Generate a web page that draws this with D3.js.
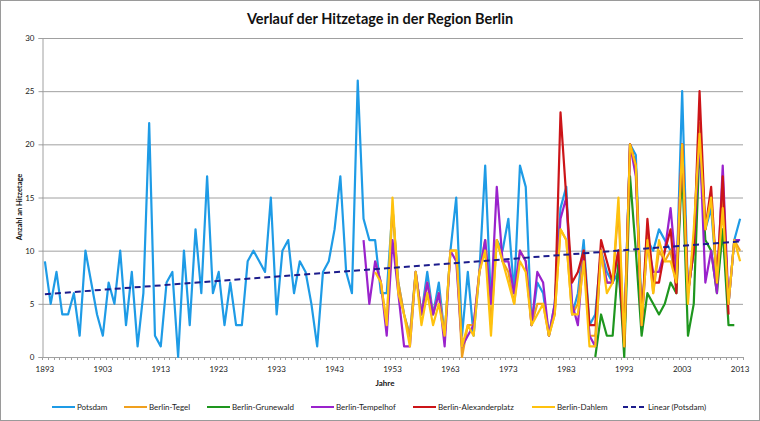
<!DOCTYPE html>
<html><head><meta charset="utf-8">
<script src="https://cdn.jsdelivr.net/npm/d3@7"></script>
<style>
body{margin:0;background:#fff}
svg{display:block}
text{font-family:Lato,"Liberation Sans",sans-serif}
</style>
</head><body>
<svg id="c" width="760" height="421"></svg>
<script>
// ---- categories / ticks ----
const firstYear = 1893, lastYear = 2013;
const years = d3.range(firstYear, lastYear + 1);
const xTickYears = [1893,1903,1913,1923,1933,1943,1953,1963,1973,1983,1993,2003,2013];
const yTicks = [0,5,10,15,20,25,30];

// ---- series values (Hitzetage), each from its start year ----
const potsdamStart = 1893;
const potsdam = [
 9,5,8,4,4,6,2,10,7,4,
 2,7,5,10,3,8,1,6,22,2,
 1,7,8,0,10,3,12,6,17,6,
 8,3,7,3,3,9,10,9,8,15,
 4,10,11,6,9,8,5,1,8,9,
 12,17,8,6,26,13,11,11,6,6,
 14,7,4,2,8,4,8,4,7,2,
 10,15,2,8,2,8,18,5,11,10,
 13,6,18,16,3,7,6,2,5,14,
 16,4,6,11,3,4,10,8,7,8,
 2,20,19,4,11,10,12,11,10,7,
 25,6,10,21,12,14,7,12,5,11,
 13];
const tegelStart = 1950;
const tegel = [
 9,7,3,14,7,4,2,8,4,7,
 4,6,2,10,10,0,3,3,8,11,
 3,11,9,8,5,10,9,3,5,5,
 2,4,12,11,4,5,10,2,2,10,
 7,7,14,1,20,18,3,12,6,10,
 9,10,7,20,6,11,22,12,15,7,
 15,5,11,10];
const grunewaldStart = 1988;
const grunewald = [
 0,4,2,2,9,0,17,10,2,6,
 5,4,5,7,6,18,2,5,20,11,
 10,6,12,3,3];
const tempelhofStart = 1948;
const tempelhof = [
 11,5,9,7,2,11,6,1,1,8,
 4,7,4,6,1,10,9,1,2,3,
 8,11,5,16,9,9,6,10,9,3,
 8,7,2,5,13,15,5,3,10,2,
 1,10,7,7,10,2,20,17,3,11,
 8,8,10,14,8,20,6,10,21,7,
 10,6,18,5,11,11];
const alexStart = 1981;
const alexanderplatz = [
 4,23,15,7,8,10,3,3,11,9,
 7,10,1,20,18,3,13,7,7,10,
 12,6,20,6,10,25,12,16,7,17,
 4];
const dahlemStart = 1950;
const dahlem = [
 8,7,3,15,6,4,1,8,3,6,
 3,5,2,10,10,1,3,2,8,10,
 2,11,9,7,5,9,8,3,4,5,
 2,4,12,11,4,4,9,1,1,10,
 6,7,15,1,20,18,3,11,6,11,
 9,9,7,20,5,12,21,12,15,7,
 14,5,11,9];

const seriesNames = ["Potsdam","Berlin-Tegel","Berlin-Grunewald","Berlin-Tempelhof","Berlin-Alexanderplatz","Berlin-Dahlem"];
const seriesColors = ["#1E9BE6","#F0A01E","#1E961E","#9A22CC","#CC1418","#FFC20E"];
const trendName = "Linear (Potsdam)";
const trendColor = "#1C1C8C";

const series = [
  {start:potsdamStart, values:potsdam},
  {start:tegelStart, values:tegel},
  {start:grunewaldStart, values:grunewald},
  {start:tempelhofStart, values:tempelhof},
  {start:alexStart, values:alexanderplatz},
  {start:dahlemStart, values:dahlem}
].map((s,i)=>({name:seriesNames[i], color:seriesColors[i],
  points:s.values.map((v,j)=>({year:s.start+j, v}))}));

// ---- layout ----
const svg = d3.select("#c");
const L = 42, R = 743, T = 38, B = 357;
const x = d3.scalePoint().domain(years).range([L,R]).padding(0.5);
const xb = d3.scaleBand().domain(years).range([L,R]);
const y = d3.scaleLinear().domain([0,30]).range([B,T]);
const gridColor = "#A0A0A0";

svg.append("rect").attr("x",0.5).attr("y",0.5).attr("width",759).attr("height",420)
  .attr("fill","#fff").attr("stroke","#9a9a9a");

// title
svg.append("text").attr("x",380).attr("y",24).attr("text-anchor","middle")
  .attr("font-size",14.5).attr("font-weight","bold").attr("fill","#111")
  .text("Verlauf der Hitzetage in der Region Berlin");

// gridlines
svg.append("g").selectAll("line").data(yTicks.filter(t=>t>0)).join("line")
  .attr("x1",L).attr("x2",R).attr("y1",d=>y(d)+0.5).attr("y2",d=>y(d)+0.5)
  .attr("stroke",gridColor).attr("stroke-width",1);

// y axis
const yAxis = svg.append("g").attr("transform",`translate(${L+0.5},0)`)
  .call(d3.axisLeft(y).tickValues(yTicks).tickSize(4).tickPadding(4));
yAxis.select(".domain").attr("stroke",gridColor);
yAxis.selectAll(".tick line").attr("stroke",gridColor);
yAxis.selectAll("text").attr("font-size",8).attr("fill","#222").attr("font-family","Lato,'Liberation Sans',sans-serif");

// x axis
const xg = svg.append("g");
xg.append("line").attr("x1",L).attr("x2",R).attr("y1",B+0.5).attr("y2",B+0.5).attr("stroke",gridColor);
xg.selectAll("line.mt").data(years.concat([lastYear+1])).join("line").attr("class","mt")
  .attr("x1",d=>Math.round(d>lastYear?R:xb(d))+0.5).attr("x2",d=>Math.round(d>lastYear?R:xb(d))+0.5)
  .attr("y1",B).attr("y2",B+3).attr("stroke",gridColor);
xg.selectAll("text").data(xTickYears).join("text")
  .attr("x",d=>x(d)).attr("y",372).attr("text-anchor","middle")
  .attr("font-size",8).attr("fill","#222").text(d=>d);

// axis titles
svg.append("text").attr("transform","translate(22,207) rotate(-90)").attr("text-anchor","middle")
  .attr("font-size",7.5).attr("font-weight","bold").attr("fill","#111").text("Anzahl an Hitzetage");
svg.append("text").attr("x",385).attr("y",386).attr("text-anchor","middle")
  .attr("font-size",8).attr("font-weight","bold").attr("fill","#111").text("Jahre");

// series lines
const line = d3.line().defined(d=>d.v!=null).x(d=>x(d.year)).y(d=>y(d.v));
svg.append("g").selectAll("path").data(series).join("path")
  .attr("d",d=>line(d.points)).attr("fill","none").attr("stroke",d=>d.color)
  .attr("stroke-width",2.2).attr("stroke-linejoin","round");

// linear trend (least squares on Potsdam)
const pts = series[0].points;
const mx = d3.mean(pts,d=>d.year), my = d3.mean(pts,d=>d.v);
const slope = d3.sum(pts,d=>(d.year-mx)*(d.v-my))/d3.sum(pts,d=>(d.year-mx)**2);
const icpt = my - slope*mx;
const trend = [firstYear,lastYear].map(yr=>({year:yr, v:icpt+slope*yr}));
svg.append("path").attr("d",line(trend)).attr("fill","none").attr("stroke",trendColor)
  .attr("stroke-width",2).attr("stroke-dasharray","6,4");

// legend
const legendX = [52,124,207,311,413,532,623];
const legendItems = seriesNames.map((nm,i)=>({name:nm,color:seriesColors[i],dash:null}))
  .concat([{name:trendName,color:trendColor,dash:"5,3"}]);
const lg = svg.append("g").selectAll("g").data(legendItems).join("g")
  .attr("transform",(d,i)=>`translate(${legendX[i]},407)`);
lg.append("line").attr("x1",0).attr("x2",23).attr("y1",0).attr("y2",0)
  .attr("stroke",d=>d.color).attr("stroke-width",2).attr("stroke-dasharray",d=>d.dash);
lg.append("text").attr("x",25).attr("y",3).attr("font-size",8).attr("fill","#222").text(d=>d.name);
</script>
</body></html>
